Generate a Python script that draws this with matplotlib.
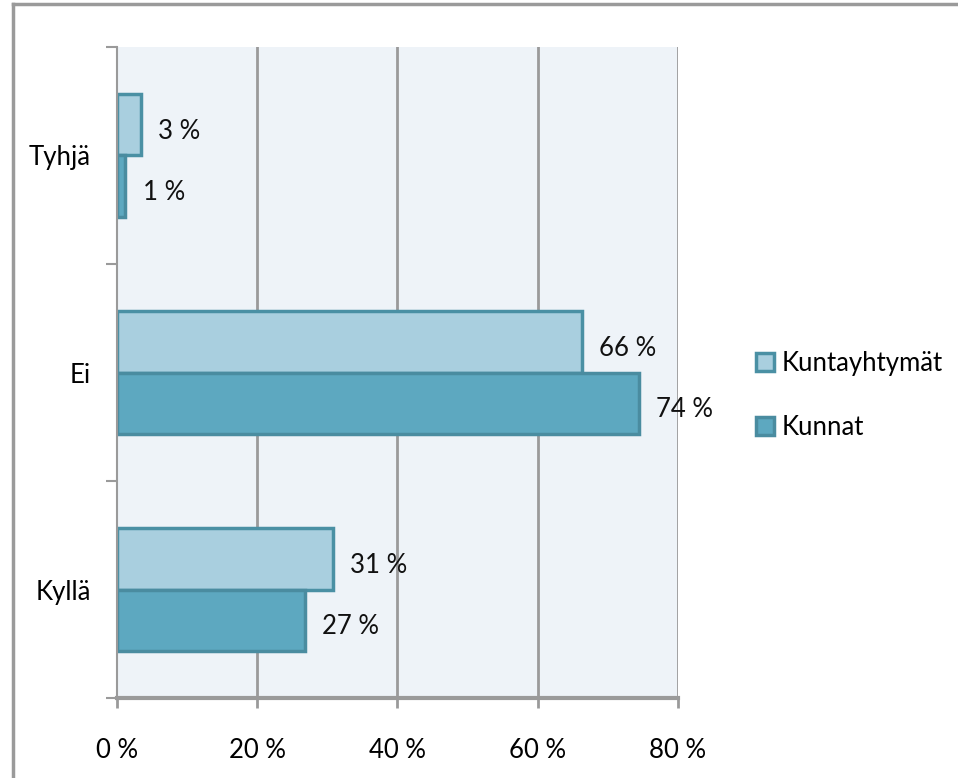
import numpy as np
import matplotlib
matplotlib.use("Agg")
from matplotlib import pyplot as plt
from matplotlib.lines import Line2D
from matplotlib.transforms import ScaledTranslation

plt.rcParams['font.family'] = ['Lato', 'Liberation Sans', 'DejaVu Sans']

categories = ["Kyllä", "Ei", "Tyhjä"]
series_names = ["Kuntayhtymät", "Kunnat"]
kuntayhtymat = [30.8, 66.3, 3.4]
kunnat = [26.8, 74.4, 1.2]
x_ticks = [0, 20, 40, 60, 80]

light_fill, light_edge = "#A9CFDF", "#4A90A4"
dark_fill, dark_edge = "#5DA8C0", "#4A8CA0"
grey = "#9A9A9A"
fs = 18.5

fig = plt.figure(figsize=(9.58, 7.78), dpi=100)
ax = fig.add_axes([0.1221, 0.1028, 0.5856, 0.8368])
ax.set_facecolor("#EEF3F8")

y = np.arange(len(categories))
h = 0.285
bars_light = ax.barh(y + h / 2, kuntayhtymat, height=h, color=light_fill,
                     edgecolor=light_edge, linewidth=2.5, label=series_names[0], zorder=3)
bars_dark = ax.barh(y - h / 2, kunnat, height=h, color=dark_fill,
                    edgecolor=dark_edge, linewidth=2.5, label=series_names[1], zorder=3)

for bars, vals in ((bars_light, kuntayhtymat), (bars_dark, kunnat)):
    for b, v in zip(bars, vals):
        ax.text(v + 2.5, b.get_y() + b.get_height() / 2 - 0.03, f"{round(v)} %",
                va="center", ha="left", fontsize=fs, color="#111111", zorder=4)

ax.set_xlim(0, 80)
ax.set_ylim(-0.5, len(categories) - 0.5)
ax.set_xticks(x_ticks)
ax.set_xticklabels([f"{t} %" for t in x_ticks], fontsize=fs)
ax.set_yticks(y)
ax.set_yticklabels(categories, fontsize=fs)
ax.set_yticks(np.arange(len(categories) + 1) - 0.5, minor=True)

# category labels sit a little below the band centre in the original
shift = ScaledTranslation(0, -8 / 100, fig.dpi_scale_trans)
for lbl in ax.get_yticklabels():
    lbl.set_transform(lbl.get_transform() + shift)

for t in x_ticks[1:]:
    ax.axvline(t, color=grey, linewidth=2, zorder=1)

for s in ("top", "right"):
    ax.spines[s].set_visible(False)
ax.spines["left"].set_color(grey)
ax.spines["left"].set_linewidth(1.5)
ax.spines["bottom"].set_color(grey)
ax.spines["bottom"].set_linewidth(3)
ax.spines["left"].set_zorder(5)

ax.tick_params(axis="y", which="major", length=0, pad=19)
ax.tick_params(axis="y", which="minor", length=8, width=1.5, color=grey)
ax.tick_params(axis="x", length=7, width=2, color=grey, pad=22)

leg = fig.legend(loc="center left", bbox_to_anchor=(0.778, 0.4917), frameon=False,
                 fontsize=fs, handlelength=0.7, handleheight=0.7, handletextpad=0.3,
                 labelspacing=1.53, borderaxespad=0)

# outer frame (only top and left edges visible)
fig.add_artist(Line2D([13 / 958, 13 / 958], [0, 1 - 4 / 778], transform=fig.transFigure,
                      color=grey, linewidth=2.5))
fig.add_artist(Line2D([13 / 958, 1], [1 - 4 / 778, 1 - 4 / 778], transform=fig.transFigure,
                      color=grey, linewidth=2.5))

fig.savefig("out.png", dpi=100)
